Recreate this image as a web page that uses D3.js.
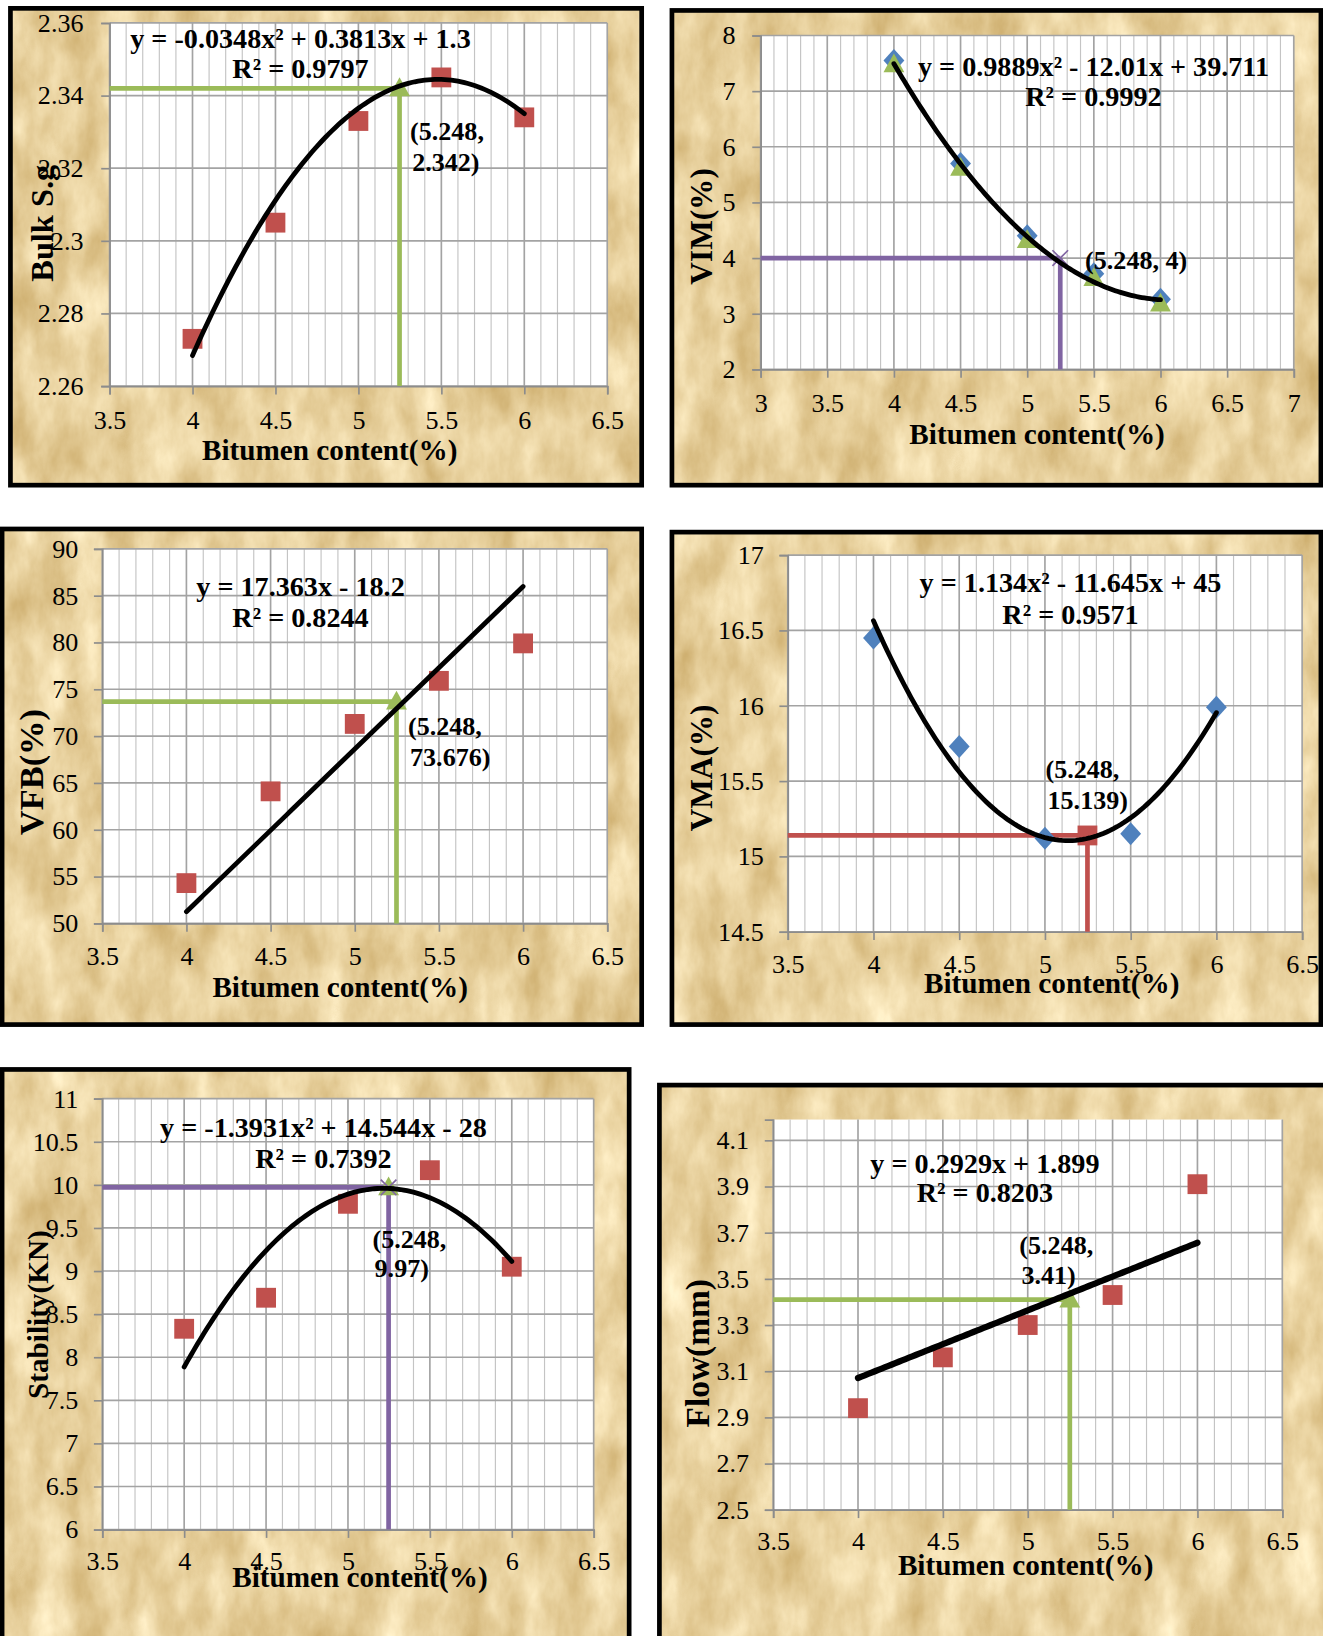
<!DOCTYPE html>
<html>
<head>
<meta charset="utf-8">
<script src="https://cdn.jsdelivr.net/npm/d3@7/dist/d3.min.js"></script>
<style>
  body { margin: 0; background: #fff; }
  svg { display: block; }
  text { font-family: "Liberation Serif", "Times New Roman", serif; fill: #000; }
</style>
</head>
<body>
<svg id="chart"></svg>
<script>
// bitumen content of the five specimens (x of every panel)
const bitumen = [4, 4.5, 5, 5.5, 6];
const optBitumen = 5.248;

const bulkSg = [2.273, 2.305, 2.333, 2.345, 2.334];
const vimDiamond = [7.55, 5.70, 4.40, 3.72, 3.26];
const vimTriangle = [7.48, 5.62, 4.32, 3.64, 3.18];
const vfb = [54.3, 64.1, 71.3, 75.9, 79.9];
const vma = [16.45, 15.73, 15.12, 15.15, 15.99];
const stability = [8.33, 8.69, 9.78, 10.17, 9.05];
const flow = [2.94, 3.16, 3.30, 3.43, 3.91];

// trendline coefficients a, b, c  (y = a x^2 + b x + c)
const bulkFit = [-0.0348, 0.3813, 1.3];
const vimFit = [0.9889, -12.01, 39.711];
const vfbFit = [0, 17.363, -18.2];
const vmaFit = [1.134, -11.645, 45];
const stabFit = [-1.3931, 14.544, -28];
const flowFit = [0, 0.2929, 1.899];

// value at optimum bitumen content
const optValues = [2.342, 4, 73.676, 15.139, 9.97, 3.41];

// tick labels
const xTicks = [3.5, 4, 4.5, 5, 5.5, 6, 6.5];
const xTicksVim = [3, 3.5, 4, 4.5, 5, 5.5, 6, 6.5, 7];
const bulkTicks = [2.26, 2.28, 2.3, 2.32, 2.34, 2.36];
const vimTicks = [2, 3, 4, 5, 6, 7, 8];
const vfbTicks = [50, 55, 60, 65, 70, 75, 80, 85, 90];
const vmaTicks = [14.5, 15, 15.5, 16, 16.5, 17];
const stabTicks = [6, 6.5, 7, 7.5, 8, 8.5, 9, 9.5, 10, 10.5, 11];
const flowTicks = [2.5, 2.7, 2.9, 3.1, 3.3, 3.5, 3.7, 3.9, 4.1];

// texts
const xTitle = "Bitumen content(%)";
const yTitles = ["Bulk S.g", "VIM(%)", "VFB(%)", "VMA(%)", "Stability(KN)", "Flow(mm)"];
const equations = [
  "y = -0.0348x² + 0.3813x + 1.3",
  "y = 0.9889x² - 12.01x + 39.711",
  "y = 17.363x - 18.2",
  "y = 1.134x² - 11.645x + 45",
  "y = -1.3931x² + 14.544x - 28",
  "y = 0.2929x + 1.899"
];
const rSquared = ["R² = 0.9797", "R² = 0.9992", "R² = 0.8244", "R² = 0.9571", "R² = 0.7392", "R² = 0.8203"];
const optLabels = [
  ["(5.248,", "2.342)"],
  ["(5.248, 4)"],
  ["(5.248,", "73.676)"],
  ["(5.248,", "15.139)"],
  ["(5.248,", "9.97)"],
  ["(5.248,", "3.41)"]
];

const RED = "#C0504D", BLUE = "#4F81BD", GREEN = "#9BBB59", PURPLE = "#8064A2";

// layout, in the 1268 x 1568 space of the viewBox
const panels = [
  { frame: [10, 8, 615, 465], plot: [105, 22, 582, 370], xDom: [3.5, 6.5], yDom: [2.26, 2.36],
    xt: xTicks, yt: bulkTicks, series: [{ v: bulkSg, shape: "square", color: RED }],
    fit: bulkFit, fitW: 4.6, refColor: GREEN, refMarks: ["triangle"],
    eq: [288, 46, 75], opt: [393, 134, 164], yT: [40, 214, 31], xT: [316, 441], yLabX: 80, xLabY: 411 },
  { frame: [644, 10, 1266, 465], plot: [729, 34, 1240, 354], xDom: [3, 7], yDom: [2, 8],
    xt: xTicksVim, yt: vimTicks,
    series: [{ v: vimDiamond, shape: "diamond", color: BLUE }, { v: vimTriangle, shape: "triangle", color: GREEN }],
    fit: vimFit, fitW: 4.6, refColor: PURPLE, refMarks: ["cross"],
    eq: [1048, 73, 102], opt: [1040, 258, 0], yT: [672, 217, 30], xT: [994, 426], yLabX: 705, xLabY: 395 },
  { frame: [2, 507, 615, 982], plot: [98, 526, 582, 885], xDom: [3.5, 6.5], yDom: [50, 90],
    xt: xTicks, yt: vfbTicks, series: [{ v: vfb, shape: "square", color: RED }],
    fit: vfbFit, fitW: 4.6, refColor: GREEN, refMarks: ["triangle"],
    eq: [288, 571, 601], opt: [391, 704, 734], yT: [30, 740, 33], xT: [326, 956], yLabX: 75, xLabY: 925 },
  { frame: [644, 510, 1266, 982], plot: [755, 532, 1248, 893], xDom: [3.5, 6.5], yDom: [14.5, 17],
    xt: xTicks, yt: vmaTicks, series: [{ v: vma, shape: "diamond", color: BLUE }],
    fit: vmaFit, fitW: 4.6, refColor: RED, refMarks: ["square"],
    eq: [1026, 567, 598], opt: [1002, 746, 775], yT: [672, 736, 30], xT: [1008, 952], yLabX: 732, xLabY: 933 },
  { frame: [2, 1025, 603, 1600], plot: [98, 1053, 569, 1466], xDom: [3.5, 6.5], yDom: [6, 11],
    xt: xTicks, yt: stabTicks, series: [{ v: stability, shape: "square", color: RED }],
    fit: stabFit, fitW: 4.6, refColor: PURPLE, refMarks: ["triangle", "cross"],
    eq: [310, 1090, 1119], opt: [357, 1196, 1224], yT: [36, 1260, 28], xT: [345, 1521], yLabX: 75, xLabY: 1505 },
  { frame: [632, 1040, 1280, 1600], plot: [741, 1073, 1229, 1447], xDom: [3.5, 6.5], yDom: [2.5, 4.19],
    xt: xTicks, yt: flowTicks, series: [{ v: flow, shape: "square", color: RED }],
    fit: flowFit, fitW: 6, refColor: GREEN, refMarks: ["triangle"],
    eq: [944, 1124, 1152], opt: [977, 1202, 1231], yT: [668, 1297, 32], xT: [983, 1510], yLabX: 718, xLabY: 1486 }
];

const svg = d3.select("#chart")
  .attr("width", 1323).attr("height", 1636)
  .attr("viewBox", "0 0 1268 1568");

// parchment texture for the chart backgrounds
const defs = svg.append("defs");
const paper = defs.append("filter").attr("id", "paper")
  .attr("x", 0).attr("y", 0).attr("width", "100%").attr("height", "100%")
  .attr("color-interpolation-filters", "sRGB");
paper.append("feTurbulence").attr("type", "fractalNoise")
  .attr("baseFrequency", "0.03 0.015").attr("numOctaves", 5).attr("seed", 4);
paper.append("feColorMatrix").attr("type", "matrix")
  .attr("values", "0.25 0 0 0 0.785  0.33 0 0 0 0.655  0.45 0 0 0 0.395  0 0 0 0 1");

function markerPath(shape, r) {
  if (shape === "square") return `M${-r},${-r}H${r}V${r}H${-r}Z`;
  if (shape === "diamond") return `M0,${-r * 1.1}L${r},0L0,${r * 1.1}L${-r},0Z`;
  if (shape === "triangle") return `M0,${-r * 1.05}L${r},${r * 0.75}L${-r},${r * 0.75}Z`;
  return `M${-r},${-r}L${r},${r}M${r},${-r}L${-r},${r}`;
}

function drawMarker(g, shape, color, x, y) {
  const sizes = { square: 9.5, diamond: 10, triangle: 10, cross: 7.5 };
  const p = g.append("path")
    .attr("transform", `translate(${x},${y})`)
    .attr("d", markerPath(shape, sizes[shape]));
  if (shape === "cross") p.attr("fill", "none").attr("stroke", color).attr("stroke-width", 1.6);
  else p.attr("fill", color);
}

panels.forEach((p, i) => {
  const g = svg.append("g");
  const [fx0, fy0, fx1, fy1] = p.frame;
  const [px0, py0, px1, py1] = p.plot;

  g.append("rect").attr("x", fx0).attr("y", fy0)
    .attr("width", fx1 - fx0).attr("height", fy1 - fy0)
    .attr("fill", "#E6CD94").attr("filter", "url(#paper)");

  const x = d3.scaleLinear().domain(p.xDom).range([px0, px1]);
  const y = d3.scaleLinear().domain(p.yDom).range([py1, py0]);

  g.append("rect").attr("x", px0).attr("y", py0)
    .attr("width", px1 - px0).attr("height", py1 - py0).attr("fill", "#fff");

  // minor vertical grid every 0.1
  const minor = d3.range(Math.round(p.xDom[0] * 10), Math.round(p.xDom[1] * 10) + 1)
    .map(d => d / 10).filter(d => !p.xt.some(t => Math.abs(t - d) < 1e-6));
  g.append("g").selectAll("line").data(minor).join("line")
    .attr("x1", d => x(d)).attr("x2", d => x(d)).attr("y1", py0).attr("y2", py1)
    .attr("stroke", "#C4C4C4").attr("stroke-width", 1.1);

  // major grid
  g.append("g").selectAll("line").data(p.xt).join("line")
    .attr("x1", d => x(d)).attr("x2", d => x(d)).attr("y1", py0).attr("y2", py1)
    .attr("stroke", "#A3A3A3").attr("stroke-width", 1.6);
  g.append("g").selectAll("line").data(p.yt).join("line")
    .attr("x1", px0).attr("x2", px1).attr("y1", d => y(d)).attr("y2", d => y(d))
    .attr("stroke", "#A3A3A3").attr("stroke-width", 1.6);

  // axes
  const xAxis = g.append("g").attr("transform", `translate(0,${py1})`)
    .call(d3.axisBottom(x).tickValues(p.xt).tickSize(8).tickPadding(0).tickFormat(d => String(d)));
  const yAxis = g.append("g").attr("transform", `translate(${px0},0)`)
    .call(d3.axisLeft(y).tickValues(p.yt).tickSize(8).tickPadding(0).tickFormat(d => String(d)));
  [xAxis, yAxis].forEach(a => {
    a.select(".domain").attr("stroke", "#8C8C8C").attr("stroke-width", 1.6);
    a.selectAll(".tick line").attr("stroke", "#8C8C8C").attr("stroke-width", 1.6);
    a.selectAll(".tick text").attr("font-size", 25).attr("font-family", "Liberation Serif").attr("fill", "#111");
  });
  xAxis.selectAll(".tick text").attr("y", p.xLabY - py1).attr("dy", null);
  yAxis.selectAll(".tick text").attr("x", p.yLabX - px0).attr("dy", "0.32em");

  // reference lines at the optimum bitumen content
  const yOpt = optValues[i];
  g.append("line").attr("x1", x(p.xDom[0])).attr("x2", x(optBitumen))
    .attr("y1", y(yOpt)).attr("y2", y(yOpt))
    .attr("stroke", p.refColor).attr("stroke-width", 4.5);
  g.append("line").attr("x1", x(optBitumen)).attr("x2", x(optBitumen))
    .attr("y1", y(p.yDom[0])).attr("y2", y(yOpt))
    .attr("stroke", p.refColor).attr("stroke-width", 4.5);

  // data markers
  p.series.forEach(s => {
    s.v.forEach((v, k) => drawMarker(g, s.shape, s.color, x(bitumen[k]), y(v)));
  });
  p.refMarks.forEach(m => {
    const c = m === "triangle" ? GREEN : p.refColor;
    drawMarker(g, m, c, x(optBitumen), y(yOpt));
  });

  // trendline from the fitted equation
  const [a, b, c] = p.fit;
  const pts = d3.range(0, 101).map(k => {
    const xv = bitumen[0] + (bitumen[bitumen.length - 1] - bitumen[0]) * k / 100;
    return [xv, a * xv * xv + b * xv + c];
  });
  g.append("path").datum(pts)
    .attr("d", d3.line().x(d => x(d[0])).y(d => y(d[1])))
    .attr("fill", "none").attr("stroke", "#000")
    .attr("stroke-width", p.fitW).attr("stroke-linecap", "round");

  // equation and R²
  const bold = sel => sel.attr("font-weight", "bold");
  g.append("text").attr("x", p.eq[0]).attr("y", p.eq[1]).attr("text-anchor", "middle")
    .attr("font-size", 27).call(bold).text(equations[i]);
  g.append("text").attr("x", p.eq[0]).attr("y", p.eq[2]).attr("text-anchor", "middle")
    .attr("font-size", 27).call(bold).text(rSquared[i]);

  // optimum label
  optLabels[i].forEach((t, k) => {
    g.append("text").attr("x", p.opt[0] + (k ? 2 : 0)).attr("y", p.opt[1 + k])
      .attr("font-size", 25).call(bold).text(t);
  });

  // axis titles
  g.append("text").attr("x", p.xT[0]).attr("y", p.xT[1]).attr("text-anchor", "middle")
    .attr("font-size", 28).call(bold).text(xTitle);
  g.append("text").attr("transform", `translate(${p.yT[0]},${p.yT[1]}) rotate(-90)`)
    .attr("text-anchor", "middle").attr("dy", "0.35em")
    .attr("font-size", p.yT[2]).call(bold).text(yTitles[i]);

  // frame
  g.append("rect").attr("x", fx0).attr("y", fy0)
    .attr("width", fx1 - fx0).attr("height", fy1 - fy0)
    .attr("fill", "none").attr("stroke", "#000").attr("stroke-width", 4.5);
});
</script>
</body>
</html>
